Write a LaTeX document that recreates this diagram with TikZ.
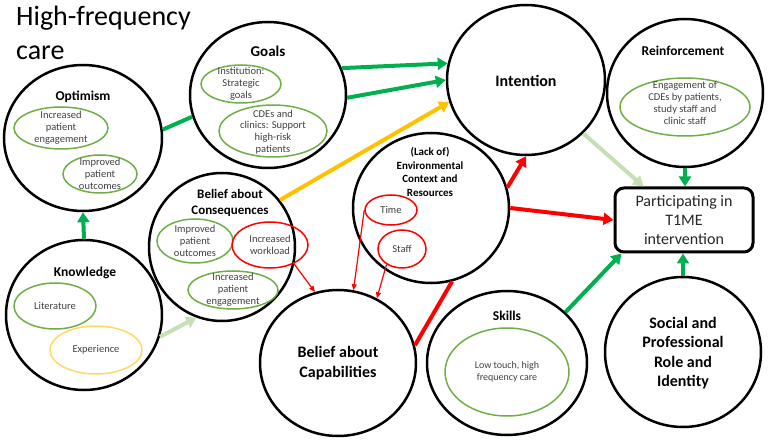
\documentclass[tikz,border=0pt]{standalone}
\usepackage{fontspec}
\setmainfont{Carlito}
\usetikzlibrary{arrows.meta,shapes.geometric,calc}
\definecolor{arrgreen}{HTML}{00B050}
\definecolor{subgreen}{HTML}{70AD47}
\definecolor{palegreen}{HTML}{C5E0B4}
\definecolor{arryellow}{HTML}{FFC000}
\definecolor{expyellow}{HTML}{FFD966}
\definecolor{txtgray}{HTML}{404040}
\begin{document}
\begin{tikzpicture}[x=1pt,y=-1pt,
  big/.style 2 args={draw=black, line width=2.5pt, ellipse, inner sep=0pt, minimum width=#1pt, minimum height=#2pt},
  sub/.style 2 args={draw=subgreen, line width=1.5pt, ellipse, inner sep=0pt, minimum width=#1pt, minimum height=#2pt},
  redsub/.style 2 args={draw=red, line width=1.5pt, ellipse, inner sep=0pt, minimum width=#1pt, minimum height=#2pt},
  yelsub/.style 2 args={draw=expyellow, line width=1.5pt, ellipse, inner sep=0pt, minimum width=#1pt, minimum height=#2pt},
  ttl/.style={font=\fontsize{13.5}{16}\selectfont\bfseries, align=center, inner sep=0pt},
  bigttl/.style={font=\fontsize{16}{19.5}\selectfont\bfseries, align=center, inner sep=0pt},
  subtxt/.style={font=\fontsize{10.5}{11.8}\selectfont, text=txtgray, align=center, inner sep=0pt},
  tip/.style={-{Triangle[length=10pt,width=12pt]}},
  garrow/.style={draw=arrgreen, line width=4pt, tip},
  parrow/.style={draw=palegreen, line width=4pt, tip},
  yarrow/.style={draw=arryellow, line width=4pt, tip},
  rarrow/.style={draw=red, line width=4pt, tip},
  gline/.style={draw=arrgreen, line width=4pt},
  rline/.style={draw=red, line width=4pt},
  rthin/.style={draw=red, line width=1.2pt, -{Triangle[length=6pt,width=5pt]}},
]
\useasboundingbox (0,0) rectangle (772,441);

% title
\node[anchor=north west, inner sep=0pt, align=left, font=\fontsize{28}{34}\selectfont] (title) at (16,6) {High-frequency\\care};

% Optimism
\node[big={158}{146}] (opt) at (83,138) {};
\node[ttl] (optT) at (83,97) {Optimism};
\node[sub={94}{42}] (opt1) at (61,128) {};
\node[subtxt] (opt1t) at (opt1) {Increased\\patient\\engagement};
\node[sub={74}{38}] (opt2) at (100,174) {};
\node[subtxt] (opt2t) at (opt2) {Improved\\patient\\outcomes};

% Goals
\node[big={156}{146}] (goals) at (268,95) {};
\node[ttl, font=\fontsize{15}{18}\selectfont\bfseries] (goalsT) at (268,51) {Goals};
\node[sub={80}{38}] (g1) at (241,84) {};
\node[subtxt] (g1t) at (g1) {Institution:\\Strategic\\goals};
\node[sub={108}{52}] (g2) at (273,131) {};
\node[subtxt] (g2t) at (273,132) {CDEs and\\clinics: Support\\high-risk\\patients};

% Intention
\node[big={158}{150}] (intention) at (526,80) {};
\node[bigttl] (intT) at (526,81) {Intention};

% Reinforcement
\node[big={156}{148}] (reinf) at (685,93) {};
\node[ttl] (reinfT) at (683,51) {Reinforcement};
\node[sub={130}{58}] (r1) at (685,107) {};
\node[subtxt] (r1t) at (685,103) {Engagement of\\CDEs by patients,\\study staff and\\clinic staff};

% Belief about Consequences
\node[big={146}{148}] (bc) at (222,247) {};
\node[font=\fontsize{13}{15.5}\selectfont\bfseries, align=center, inner sep=0pt] (bcT) at (230,203) {Belief about\\Consequences};
\node[sub={76}{44}] (bc1) at (195,241) {};
\node[subtxt] (bc1t) at (bc1) {Improved\\patient\\outcomes};
\node[redsub={76}{46}] (bc2) at (270,245) {};
\node[subtxt] (bc2t) at (bc2) {Increased\\workload};
\node[sub={90}{38}] (bc3) at (233,290) {};
\node[subtxt] (bc3t) at (bc3) {Increased\\patient\\engagement};

% Environmental Context
\node[big={156}{150}] (env) at (431,208) {};
\node[font=\fontsize{11}{13.5}\selectfont\bfseries, align=center, inner sep=0pt] (envT) at (430,172) {(Lack of)\\Environmental\\Context and\\Resources};
\node[redsub={52}{30}] (time) at (391,210) {};
\node[subtxt] (timet) at (time) {Time};
\node[redsub={48}{38}] (staff) at (402,249) {};
\node[subtxt] (stafft) at (staff) {Staff};

% Knowledge
\node[big={156}{150}] (know) at (84,315) {};
\node[ttl] (knowT) at (85,273) {Knowledge};
\node[sub={82}{46}] (k1) at (55,306) {};
\node[subtxt] (k1t) at (k1) {Literature};
\node[yelsub={92}{48}] (k2) at (96,350) {};
\node[subtxt] (k2t) at (k2) {Experience};

% Belief about Capabilities
\node[big={156}{146}] (bcap) at (338,363) {};
\node[bigttl] (bcapT) at (338,363) {Belief about\\Capabilities};

% Skills
\node[big={160}{144}] (skills) at (507,363) {};
\node[ttl] (skillsT) at (507,316) {Skills};
\node[sub={124}{88}] (s1) at (507,372) {};
\node[subtxt, font=\fontsize{10}{11.5}\selectfont] (s1t) at (507,372) {Low touch, high\\frequency care};

% Social and Professional Role and Identity
\node[big={156}{150}] (social) at (683,352) {};
\node[bigttl] (socialT) at (683,353) {Social and\\Professional\\Role and\\Identity};

% Participating
\node[draw=black, line width=3pt, rounded corners=9pt, minimum width=138pt, minimum height=64pt, inner sep=0pt, align=center, font=\fontsize{16}{19}\selectfont, text=black!85] (part) at (684,220) {Participating in\\T1ME\\intervention};

% connectors
\draw[gline] (opt.6) -- (goals.196);
\draw[garrow] (goals.20) -- (intention.168);
\draw[garrow] (goals.-2) -- (intention.180);
\draw[yarrow] (bc.39) -- (intention.196);
\draw[garrow] (know.90) -- (opt.270);
\draw[parrow] (know.-16) -- (bc.250);
\draw[parrow] (intention.-43) -- ([xshift=30pt]part.north west);
\draw[garrow] (reinf.south) -- (reinf.south |- part.north);
\draw[garrow] (social.north) -- (social.north |- part.south);
\draw[garrow] (skills.41) -- ([xshift=8pt]part.south west);
\draw[rarrow] (env.15) -- (intention.270);
\draw[rarrow] (env.0) -- (part.west);
\draw[rline] (bcap.13) -- (env.286);
\draw[rthin] (bc2.-38) -- (bcap.108);
\draw[rthin] (time.180) -- (bcap.78);
\draw[rthin] (staff.225) -- (bcap.59);
\end{tikzpicture}
\end{document}
